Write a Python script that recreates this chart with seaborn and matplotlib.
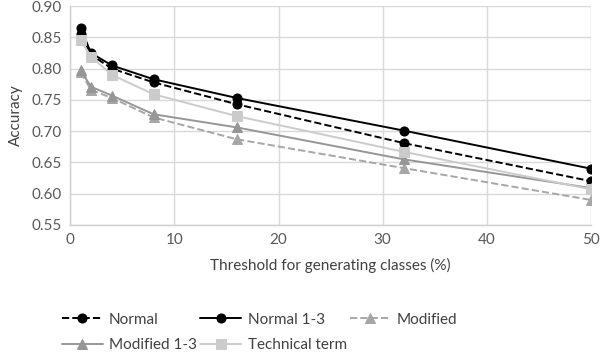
import matplotlib
matplotlib.use("Agg")
import matplotlib.pyplot as plt
import seaborn as sns
import pandas as pd

thresholds = [1, 2, 4, 8, 16, 32, 50]
normal = [0.855, 0.822, 0.800, 0.778, 0.743, 0.681, 0.620]
normal_13 = [0.865, 0.825, 0.805, 0.783, 0.753, 0.701, 0.640]
modified = [0.794, 0.766, 0.753, 0.722, 0.687, 0.641, 0.590]
modified_13 = [0.797, 0.771, 0.757, 0.727, 0.706, 0.655, 0.609]
technical = [0.846, 0.819, 0.790, 0.759, 0.724, 0.667, 0.607]

series_names = ["Normal", "Normal 1-3", "Modified", "Modified 1-3", "Technical term"]
series_values = [normal, normal_13, modified, modified_13, technical]

styles = {
    "Normal": dict(color="#000000", ls="--", marker="o", ms=6.5),
    "Normal 1-3": dict(color="#000000", ls="-", marker="o", ms=6.5),
    "Modified": dict(color="#a6a6a6", ls="--", marker="^", ms=6.5),
    "Modified 1-3": dict(color="#969696", ls="-", marker="^", ms=6.5),
    "Technical term": dict(color="#cbcbcb", ls="-", marker="s", ms=6.5),
}

sns.set_theme(style="white")
plt.rcParams['font.family'] = ['Lato', 'DejaVu Sans']

fig = plt.figure(figsize=(6, 3.56), dpi=100)
ax = fig.add_axes([0.117, 0.368, 0.868, 0.615])

for name, vals in zip(series_names, series_values):
    df = pd.DataFrame({"x": thresholds, "y": vals})
    st = styles[name]
    sns.lineplot(data=df, x="x", y="y", ax=ax, color=st["color"], linestyle=st["ls"],
                 marker=st["marker"], markersize=st["ms"], markeredgecolor=st["color"],
                 linewidth=1.4, label=name, zorder=3)

ax.set_xlim(0, 50)
ax.set_ylim(0.55, 0.90)
ax.set_xticks([0, 10, 20, 30, 40, 50])
yt = [0.55, 0.60, 0.65, 0.70, 0.75, 0.80, 0.85, 0.90]
ax.set_yticks(yt)
ax.set_yticklabels([f"{v:.2f}" for v in yt])
ax.grid(True, color="#d9d9d9", linewidth=1.0)
ax.set_axisbelow(True)
for s in ["top", "right"]:
    ax.spines[s].set_visible(False)
for s in ["left", "bottom"]:
    ax.spines[s].set_color("#cfcfcf")
    ax.spines[s].set_linewidth(1.0)
ax.tick_params(axis="both", colors="#595959", labelsize=11, length=0, pad=6)
ax.set_xlabel("Threshold for generating classes (%)", fontsize=11, color="#404040", labelpad=8)
ax.set_ylabel("Accuracy", fontsize=11, color="#404040", labelpad=6)

handles, labels = ax.get_legend_handles_labels()
order = ["Normal", "Modified 1-3", "Normal 1-3", "Technical term", "Modified"]
hmap = dict(zip(labels, handles))
if ax.get_legend():
    ax.get_legend().remove()
leg = fig.legend([hmap[o] for o in order], order, loc="upper left",
                 bbox_to_anchor=(0.08, 0.16), ncol=3, frameon=False,
                 fontsize=11, handlelength=2.7, columnspacing=0.2, handletextpad=0.4,
                 labelspacing=0.75)
for t in leg.get_texts():
    t.set_color("#404040")

fig.savefig("out.png", dpi=100, facecolor="white")
